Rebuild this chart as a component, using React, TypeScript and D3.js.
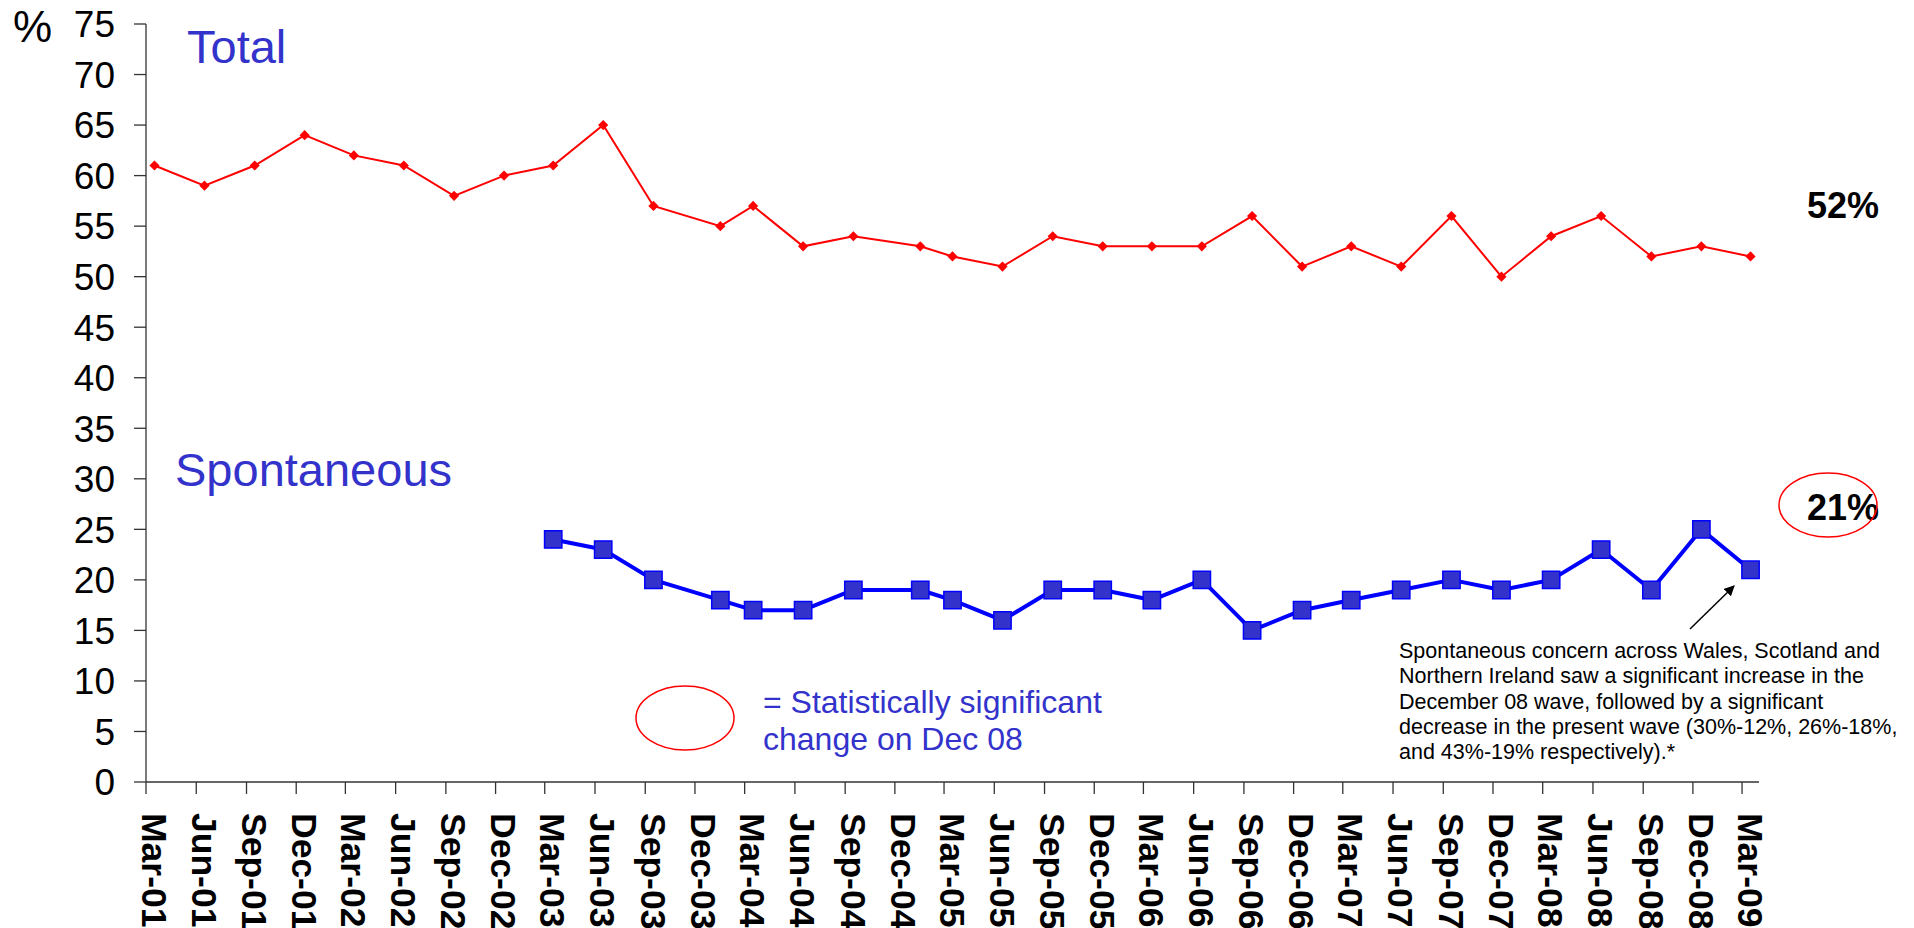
import React, { useRef, useEffect } from 'react';
import * as d3 from 'd3';

const WIDTH = 1914;
const HEIGHT = 928;
const FONT = 'Arial, "Liberation Sans", sans-serif';

// survey month of each wave (the Dec-03 and Dec-04 waves fell in January)
const waveMonths = [
  '2001-03', '2001-06', '2001-09', '2001-12', '2002-03', '2002-06', '2002-09', '2002-12',
  '2003-03', '2003-06', '2003-09', '2004-01', '2004-03', '2004-06', '2004-09', '2005-01',
  '2005-03', '2005-06', '2005-09', '2005-12', '2006-03', '2006-06', '2006-09', '2006-12',
  '2007-03', '2007-06', '2007-09', '2007-12', '2008-03', '2008-06', '2008-09', '2008-12',
  '2009-03',
];
const totalValues = [
  61, 59, 61, 64, 62, 61, 58, 60, 61, 65, 57, 55, 57, 53, 54, 53, 52, 51, 54, 53, 53, 53, 56,
  51, 53, 51, 56, 50, 54, 56, 52, 53, 52,
];
const spontaneousValues: (number | null)[] = [
  null, null, null, null, null, null, null, null,
  24, 23, 20, 18, 17, 17, 19, 19, 18, 16, 19, 19, 18, 20, 15, 17, 18, 19, 20, 19, 20, 23, 19, 25, 21,
];
const yTicks = [0, 5, 10, 15, 20, 25, 30, 35, 40, 45, 50, 55, 60, 65, 70, 75];
const noteLines = [
  'Spontaneous concern across Wales, Scotland and',
  'Northern Ireland saw a significant increase in the',
  'December 08 wave, followed by a significant',
  'decrease in the present wave (30%-12%, 26%-18%,',
  'and 43%-19% respectively).*',
];

const parseMonth = d3.utcParse('%Y-%m');

const App: React.FC = () => {
  const svgRef = useRef<SVGSVGElement>(null);

  useEffect(() => {
    if (!svgRef.current) return;
    const svg = d3.select(svgRef.current);
    svg.selectAll('*').remove();

    const start = parseMonth('2001-03') as Date;
    const end = parseMonth('2009-04') as Date;
    const x = d3.scaleUtc().domain([start, end]).range([146, 1759]);
    const y = d3.scaleLinear().domain([0, 75]).range([782, 24]);

    // centre of a month on the date axis
    const monthMid = (d: Date) => (x(d) + x(d3.utcMonth.offset(d, 1))) / 2;

    const dates = waveMonths.map((m) => parseMonth(m) as Date);
    const axisColor = '#333';

    // y axis
    svg.append('line')
      .attr('x1', x(start)).attr('x2', x(start))
      .attr('y1', y(75)).attr('y2', y(0))
      .attr('stroke', axisColor).attr('stroke-width', 1.3);
    yTicks.forEach((t) => {
      svg.append('line')
        .attr('x1', x(start) - 12).attr('x2', x(start))
        .attr('y1', y(t)).attr('y2', y(t))
        .attr('stroke', axisColor).attr('stroke-width', 1.3);
      svg.append('text')
        .attr('x', 115).attr('y', y(t)).attr('dy', '0.36em')
        .attr('text-anchor', 'end')
        .attr('font-family', FONT).attr('font-size', 37)
        .attr('fill', '#000')
        .text(t);
    });
    svg.append('text')
      .attr('x', 13).attr('y', 42)
      .attr('font-family', FONT).attr('font-size', 44)
      .text('%');

    // x axis
    svg.append('line')
      .attr('x1', x(start)).attr('x2', x(end))
      .attr('y1', y(0)).attr('y2', y(0))
      .attr('stroke', axisColor).attr('stroke-width', 1.3);
    const tickDates = d3.utcMonths(start, end, 3);
    const fmt = d3.utcFormat('%b-%y');
    tickDates.forEach((d) => {
      svg.append('line')
        .attr('x1', x(d)).attr('x2', x(d))
        .attr('y1', y(0)).attr('y2', y(0) + 12)
        .attr('stroke', axisColor).attr('stroke-width', 1.3);
      svg.append('text')
        .attr('transform', `translate(${monthMid(d)}, 813) rotate(90)`)
        .attr('dy', '0.36em')
        .attr('font-family', FONT).attr('font-size', 35.5).attr('font-weight', 'bold')
        .attr('fill', '#000')
        .text(fmt(d));
    });

    // Total line (red, diamonds)
    const totalPts = dates.map((d, i) => ({ d, v: totalValues[i] }));
    const line = d3.line<{ d: Date; v: number }>()
      .x((p) => monthMid(p.d))
      .y((p) => y(p.v));
    svg.append('path')
      .attr('d', line(totalPts) ?? '')
      .attr('fill', 'none').attr('stroke', '#FF0000').attr('stroke-width', 2);
    const diamond = d3.symbol().type(d3.symbolSquare).size(52);
    svg.selectAll('path.dia')
      .data(totalPts)
      .join('path')
      .attr('class', 'dia')
      .attr('d', diamond() ?? '')
      .attr('transform', (p) => `translate(${monthMid(p.d)}, ${y(p.v)}) rotate(45)`)
      .attr('fill', '#FF0000');

    // Spontaneous line (blue, squares)
    const spontPts = dates
      .map((d, i) => ({ d, v: spontaneousValues[i] }))
      .filter((p) => p.v !== null) as { d: Date; v: number }[];
    svg.append('path')
      .attr('d', line(spontPts) ?? '')
      .attr('fill', 'none').attr('stroke', '#0000FF').attr('stroke-width', 4)
      .attr('stroke-linejoin', 'round');
    const square = d3.symbol().type(d3.symbolSquare).size(300);
    svg.selectAll('path.sq')
      .data(spontPts)
      .join('path')
      .attr('class', 'sq')
      .attr('d', square() ?? '')
      .attr('transform', (p) => `translate(${monthMid(p.d)}, ${y(p.v)})`)
      .attr('fill', '#3333CC').attr('stroke', '#0000FF').attr('stroke-width', 1.5);

    // series titles
    svg.append('text')
      .attr('x', 187).attr('y', 63)
      .attr('font-family', FONT).attr('font-size', 47).attr('fill', '#3333CC')
      .text('Total');
    svg.append('text')
      .attr('x', 175).attr('y', 486)
      .attr('font-family', FONT).attr('font-size', 47).attr('fill', '#3333CC')
      .text('Spontaneous');

    // latest values
    const lastTotal = totalValues[totalValues.length - 1];
    const lastSpont = spontaneousValues[spontaneousValues.length - 1] as number;
    svg.append('text')
      .attr('x', 1807).attr('y', 218)
      .attr('font-family', FONT).attr('font-size', 36).attr('font-weight', 'bold')
      .text(`${lastTotal}%`);
    svg.append('text')
      .attr('x', 1807).attr('y', 520)
      .attr('font-family', FONT).attr('font-size', 36).attr('font-weight', 'bold')
      .text(`${lastSpont}%`);
    svg.append('ellipse')
      .attr('cx', 1828).attr('cy', 505).attr('rx', 49).attr('ry', 32)
      .attr('fill', 'none').attr('stroke', '#FF0000').attr('stroke-width', 1.5);

    // legend for significance
    svg.append('ellipse')
      .attr('cx', 685).attr('cy', 718).attr('rx', 49).attr('ry', 32)
      .attr('fill', 'none').attr('stroke', '#FF0000').attr('stroke-width', 1.5);
    const leg = svg.append('text')
      .attr('font-family', FONT).attr('font-size', 32).attr('fill', '#3333CC');
    leg.append('tspan').attr('x', 763).attr('y', 713).text('= Statistically significant');
    leg.append('tspan').attr('x', 763).attr('y', 750).text('change on Dec 08');

    // note with arrow
    svg.append('defs').append('marker')
      .attr('id', 'arrowhead')
      .attr('viewBox', '0 0 10 10')
      .attr('refX', 9).attr('refY', 5)
      .attr('markerWidth', 7).attr('markerHeight', 7)
      .attr('orient', 'auto')
      .append('path').attr('d', 'M0,0 L10,5 L0,10 z').attr('fill', '#000');
    svg.append('line')
      .attr('x1', 1690).attr('y1', 629).attr('x2', 1734).attr('y2', 586)
      .attr('stroke', '#000').attr('stroke-width', 1.5)
      .attr('marker-end', 'url(#arrowhead)');
    const note = svg.append('text')
      .attr('font-family', FONT).attr('font-size', 21.5).attr('fill', '#000');
    noteLines.forEach((t, i) => {
      note.append('tspan').attr('x', 1399).attr('y', 658 + i * 25.3).text(t);
    });
  }, []);

  return (
    <svg
      ref={svgRef}
      width={WIDTH}
      height={HEIGHT}
      style={{ position: 'absolute', left: 0, top: 0, background: '#fff' }}
    />
  );
};

export default App;
